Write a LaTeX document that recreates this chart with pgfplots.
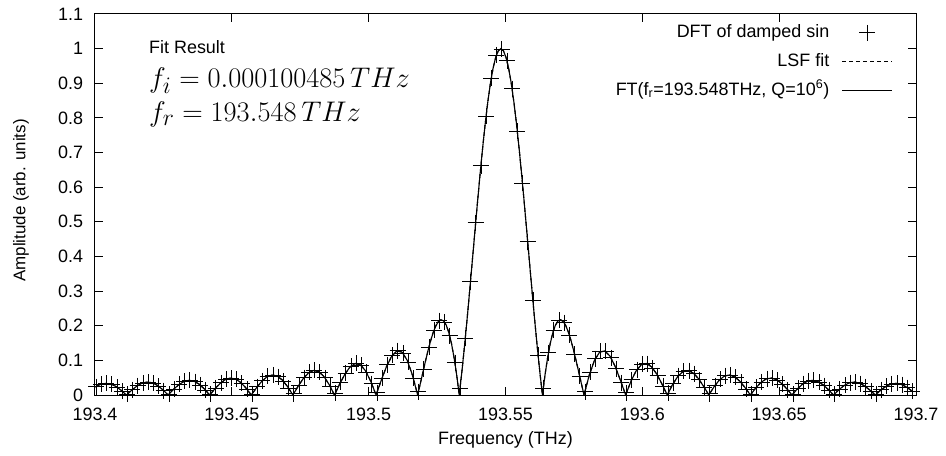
\documentclass[border=0pt]{standalone}
\usepackage{graphicx}
\usepackage[no-math]{fontspec}
\setmainfont{Liberation Sans}
\usepackage{pgfplots}
\pgfplotsset{compat=1.18}
\usepackage{pgfplotstable}

\pgfplotsset{
  crossleg/.style={legend image code/.code={\draw[##1, only marks] plot coordinates {(38bp,0bp)}; \path[draw=none] (0bp,0bp) -- (63bp,0bp);}},
  lineleg/.style={legend image code/.code={\draw[##1] (13bp,0bp) -- (63bp,0bp);}},
}

% x = (frequency - 193.4 THz) in GHz
\pgfplotstableread[row sep=\\]{
x y\\
0.4 0.02454\\ 2.3 0.03135\\ 4.2 0.03351\\ 6.1 0.03056\\ 8.0 0.02281\\ 9.9 0.01132\\ 11.8 0.00223\\ 13.7 0.01581\\
15.6 0.02735\\ 17.5 0.03500\\ 19.4 0.03746\\ 21.3 0.03421\\ 23.2 0.02558\\ 25.1 0.01272\\ 27.0 0.00250\\ 28.9 0.01783\\
30.8 0.03089\\ 32.7 0.03960\\ 34.6 0.04247\\ 36.5 0.03886\\ 38.4 0.02911\\ 40.3 0.01451\\ 42.2 0.00286\\ 44.1 0.02043\\
46.0 0.03548\\ 47.9 0.04559\\ 49.8 0.04902\\ 51.7 0.04498\\ 53.6 0.03379\\ 55.5 0.01689\\ 57.4 0.00334\\ 59.3 0.02392\\
61.2 0.04167\\ 63.1 0.05373\\ 65.0 0.05797\\ 66.9 0.05338\\ 68.8 0.04025\\ 70.7 0.02020\\ 72.6 0.00401\\ 74.5 0.02884\\
76.4 0.05048\\ 78.3 0.06540\\ 80.2 0.07091\\ 82.1 0.06564\\ 84.0 0.04976\\ 85.9 0.02512\\ 87.8 0.00502\\ 89.7 0.03632\\
91.6 0.06401\\ 93.5 0.08354\\ 95.4 0.09129\\ 97.3 0.08520\\ 99.2 0.06517\\ 101.1 0.03320\\ 103.0 0.00671\\ 104.9 0.04905\\
106.8 0.08746\\ 108.7 0.11561\\ 110.6 0.12809\\ 112.5 0.12138\\ 114.4 0.09439\\ 116.3 0.04898\\ 118.2 0.01010\\ 120.1 0.07549\\
122.0 0.13802\\ 123.9 0.18763\\ 125.8 0.21465\\ 127.7 0.21095\\ 129.6 0.17114\\ 131.5 0.09330\\ 133.4 0.02040\\ 135.3 0.16377\\
137.2 0.32708\\ 139.1 0.49777\\ 141.0 0.66182\\ 142.9 0.80519\\ 144.8 0.91520\\ 146.7 0.98190\\ 148.6 0.99934\\ 150.5 0.96569\\
152.4 0.88431\\ 154.3 0.76241\\ 156.2 0.61091\\ 158.1 0.44317\\ 160.0 0.27337\\ 161.9 0.11520\\ 163.8 0.01960\\ 165.7 0.12229\\
167.6 0.18801\\ 169.5 0.21588\\ 171.4 0.20900\\ 173.3 0.17376\\ 175.2 0.11893\\ 177.1 0.05441\\ 179.0 0.00990\\ 180.9 0.06528\\
182.8 0.10518\\ 184.7 0.12574\\ 186.6 0.12606\\ 188.5 0.10807\\ 190.4 0.07599\\ 192.3 0.03561\\ 194.2 0.00662\\ 196.1 0.04452\\
198.0 0.07302\\ 199.9 0.08870\\ 201.8 0.09025\\ 203.7 0.07842\\ 205.6 0.05583\\ 207.5 0.02647\\ 209.4 0.00497\\ 211.3 0.03378\\
213.2 0.05592\\ 215.1 0.06852\\ 217.0 0.07028\\ 218.9 0.06154\\ 220.8 0.04413\\ 222.7 0.02106\\ 224.6 0.00398\\ 226.5 0.02722\\
228.4 0.04531\\ 230.3 0.05582\\ 232.2 0.05755\\ 234.1 0.05064\\ 236.0 0.03648\\ 237.9 0.01749\\ 239.8 0.00332\\ 241.7 0.02279\\
243.6 0.03808\\ 245.5 0.04709\\ 247.4 0.04872\\ 249.3 0.04302\\ 251.2 0.03109\\ 253.1 0.01495\\ 255.0 0.00285\\ 256.9 0.01960\\
258.8 0.03284\\ 260.7 0.04072\\ 262.6 0.04224\\ 264.5 0.03739\\ 266.4 0.02709\\ 268.3 0.01306\\ 270.2 0.00249\\ 272.1 0.01719\\
274.0 0.02887\\ 275.9 0.03587\\ 277.8 0.03729\\ 279.7 0.03306\\ 281.6 0.02400\\ 283.5 0.01159\\ 285.4 0.00222\\ 287.3 0.01531\\
289.2 0.02576\\ 291.1 0.03205\\ 293.0 0.03337\\ 294.9 0.02964\\ 296.8 0.02155\\ 298.7 0.01042\\
}\dftdata

\pgfplotstableread[row sep=\\]{
x y\\
0.1 0.02309\\ 2.0 0.03055\\ 3.9 0.03351\\ 5.8 0.03137\\ 7.7 0.02433\\ 9.6 0.01335\\ 11.5 0\\ 13.4 0.01373\\
15.3 0.02572\\ 17.2 0.03410\\ 19.1 0.03745\\ 21.0 0.03511\\ 22.9 0.02728\\ 24.8 0.01499\\ 26.7 0\\ 28.6 0.01547\\
30.5 0.02904\\ 32.4 0.03857\\ 34.3 0.04244\\ 36.2 0.03988\\ 38.1 0.03105\\ 40.0 0.01710\\ 41.9 0\\ 43.8 0.01772\\
45.7 0.03335\\ 47.6 0.04439\\ 49.5 0.04897\\ 51.4 0.04613\\ 53.3 0.03601\\ 55.2 0.01989\\ 57.1 0\\ 59.0 0.02073\\
60.9 0.03914\\ 62.8 0.05228\\ 64.7 0.05787\\ 66.6 0.05471\\ 68.5 0.04287\\ 70.4 0.02377\\ 72.3 0\\ 74.2 0.02499\\
76.1 0.04739\\ 78.0 0.06358\\ 79.9 0.07074\\ 81.8 0.06722\\ 83.7 0.05296\\ 85.6 0.02953\\ 87.5 0\\ 89.4 0.03144\\
91.3 0.06002\\ 93.2 0.08113\\ 95.1 0.09095\\ 97.0 0.08714\\ 98.9 0.06926\\ 100.8 0.03898\\ 102.7 0\\ 104.6 0.04237\\
106.5 0.08185\\ 108.4 0.11203\\ 110.3 0.12732\\ 112.2 0.12382\\ 114.1 0.10004\\ 116.0 0.05732\\ 117.9 0\\
118.85 0.03205\\ 119.8 0.06497\\ 120.75 0.09757\\ 121.7 0.12862\\ 122.65 0.15684\\ 123.6 0.18097\\ 124.55 0.19980\\ 125.5 0.21221\\
126.45 0.21718\\ 127.4 0.21388\\ 128.35 0.20165\\ 129.3 0.18006\\ 130.25 0.14892\\ 131.2 0.10828\\ 132.15 0.05845\\ 133.1 0\\
134.05 0.06624\\ 135.0 0.13921\\ 135.95 0.21765\\ 136.9 0.30011\\ 137.85 0.38497\\ 138.8 0.47053\\ 139.75 0.55501\\ 140.7 0.63662\\
141.65 0.71359\\ 142.6 0.78421\\ 143.55 0.84693\\ 144.5 0.90032\\ 145.45 0.94317\\ 146.4 0.97449\\ 147.35 0.99359\\ 148.3 1.0\\
149.25 0.99359\\ 150.2 0.97449\\ 151.15 0.94317\\ 152.1 0.90032\\ 153.05 0.84693\\ 154.0 0.78421\\ 154.95 0.71359\\ 155.9 0.63662\\
156.85 0.55501\\ 157.8 0.47053\\ 158.75 0.38497\\ 159.7 0.30011\\ 160.65 0.21765\\ 161.6 0.13921\\ 162.55 0.06624\\ 163.5 0\\
164.45 0.05845\\ 165.4 0.10828\\ 166.35 0.14892\\ 167.3 0.18006\\ 168.25 0.20165\\ 169.2 0.21388\\ 170.15 0.21718\\ 171.1 0.21221\\
172.05 0.19980\\ 173.0 0.18097\\ 173.95 0.15684\\ 174.9 0.12862\\ 175.85 0.09757\\ 176.8 0.06497\\ 177.75 0.03205\\ 178.7 0\\
180.6 0.05732\\ 182.5 0.10004\\ 184.4 0.12382\\ 186.3 0.12732\\ 188.2 0.11203\\ 190.1 0.08185\\ 192.0 0.04237\\ 193.9 0\\
195.8 0.03898\\ 197.7 0.06926\\ 199.6 0.08714\\ 201.5 0.09095\\ 203.4 0.08113\\ 205.3 0.06002\\ 207.2 0.03144\\ 209.1 0\\
211.0 0.02953\\ 212.9 0.05296\\ 214.8 0.06722\\ 216.7 0.07074\\ 218.6 0.06358\\ 220.5 0.04739\\ 222.4 0.02499\\ 224.3 0\\
226.2 0.02377\\ 228.1 0.04287\\ 230.0 0.05471\\ 231.9 0.05787\\ 233.8 0.05228\\ 235.7 0.03914\\ 237.6 0.02073\\ 239.5 0\\
241.4 0.01989\\ 243.3 0.03601\\ 245.2 0.04613\\ 247.1 0.04897\\ 249.0 0.04439\\ 250.9 0.03335\\ 252.8 0.01772\\ 254.7 0\\
256.6 0.01710\\ 258.5 0.03105\\ 260.4 0.03988\\ 262.3 0.04244\\ 264.2 0.03857\\ 266.1 0.02904\\ 268.0 0.01547\\ 269.9 0\\
271.8 0.01499\\ 273.7 0.02728\\ 275.6 0.03511\\ 277.5 0.03745\\ 279.4 0.03410\\ 281.3 0.02572\\ 283.2 0.01373\\ 285.1 0\\
287.0 0.01335\\ 288.9 0.02433\\ 290.8 0.03137\\ 292.7 0.03351\\ 294.6 0.03055\\ 296.5 0.02309\\ 298.4 0.01234\\
}\fitdata

\begin{document}
\fontsize{18}{21.6}\selectfont
\begin{tikzpicture}[font=\fontsize{18}{21.6}\selectfont]
\useasboundingbox (-95bp,-61bp) rectangle (851bp,395bp);
\begin{axis}[
  at={(0bp,0bp)}, anchor=south west,
  scale only axis, width=821bp, height=381bp,
  xmin=0, xmax=300, ymin=0, ymax=1.1,
  xtick={0,50,100,150,200,250,300},
  xticklabels={193.4,193.45,193.5,193.55,193.6,193.65,193.7},
  ytick={0,0.1,0.2,0.3,0.4,0.5,0.6,0.7,0.8,0.9,1,1.1},
  yticklabels={0,0.1,0.2,0.3,0.4,0.5,0.6,0.7,0.8,0.9,1,1.1},
  tick align=inside, tick pos=both,
  major tick length=8bp,
  every tick/.style={black, line width=1bp},
  axis line style={line width=1bp},
  xticklabel style={yshift=-7bp},
  yticklabel style={xshift=-5.7bp},
  xlabel={Frequency (THz)},
  ylabel={Amplitude (arb. units)},
  xlabel style={at={(axis description cs:0.5,-0.118)}, anchor=center},
  ylabel style={at={(axis description cs:-0.0901,0.5105)}, anchor=center, font=\fontsize{17}{20}\selectfont},
  clip mode=individual,
  legend cell align=right,
  legend plot pos=right,
  legend style={at={(0.972,0.9748)}, anchor=north east, draw=none, fill=none,
    inner sep=0pt, row sep=11bp, column sep=0pt,
    nodes={inner sep=0pt, text height=0.75em, text depth=0.25em}},
]
\addplot[only marks, mark=+, mark size=8bp, mark options={line width=0.6bp, black}, crossleg]
  table {\dftdata};
\addlegendentry{DFT of damped sin}
\addplot[black, line width=1.1bp, dash pattern=on 4bp off 3bp, lineleg]
  table {\fitdata};
\addlegendentry{LSF fit}
\addplot[black, line width=1.1bp, lineleg]
  table {\fitdata};
\addlegendentry{FT(f\textsubscript{r}=193.548THz, Q=10\textsuperscript{6})}
\node[anchor=base west, inner sep=0pt] at (axis description cs:0.0658,0.8968) {Fit Result};
\node[anchor=base west, inner sep=0pt, font=\fontsize{24.88}{30}\selectfont] at (axis description cs:0.0658,0.8076) {\scalebox{1.145}{$f_i = 0.000100485\,THz$}};
\node[anchor=base west, inner sep=0pt, font=\fontsize{24.88}{30}\selectfont] at (axis description cs:0.0658,0.7173) {\scalebox{1.145}{$f_r = 193.548\,THz$}};
\end{axis}
\end{tikzpicture}
\end{document}
